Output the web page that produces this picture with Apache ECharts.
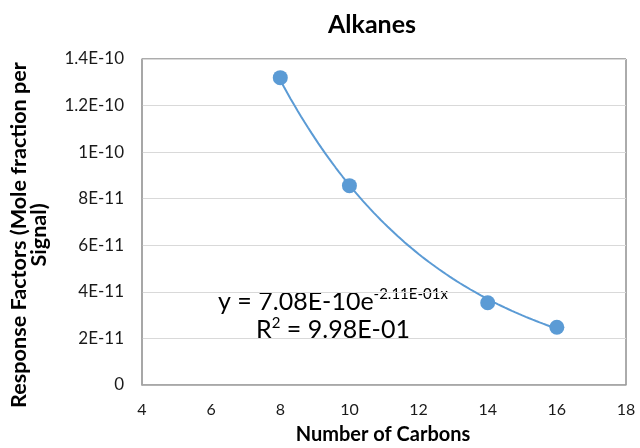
<!DOCTYPE html>
<html>
<head>
<meta charset="utf-8">
<script src="https://cdn.jsdelivr.net/npm/echarts@6/dist/echarts.min.js"></script>
<style>
  html, body { margin: 0; padding: 0; background: #fff; }
  #chart { width: 640px; height: 448px; }
</style>
</head>
<body>
<div id="chart"></div>
<script>
// Measured response factors for n-alkanes
const carbons = [8, 10, 14, 16];
const responseFactors = [1.32e-10, 8.56e-11, 3.53e-11, 2.48e-11];

// Exponential trendline y = A * e^(B x) and its R²
const fitA = 7.08e-10;
const fitB = -2.11e-1;
const fitR2 = 9.98e-1;

const xTickLabels = ['4', '6', '8', '10', '12', '14', '16', '18'];
const yTickLabels = ['0', '2E-11', '4E-11', '6E-11', '8E-11', '1E-10', '1.2E-10', '1.4E-10'];

const FONT = 'Lato, "Open Sans", sans-serif';
const BLUE = '#5B9BD5';

// Excel-style scientific notation, e.g. 7.08E-10, -2.11E-01
function fmtE(v) {
  const s = v.toExponential(2).toUpperCase();
  const m = s.match(/^(-?[\d.]+)E([+-])(\d+)$/);
  return m[1] + 'E' + m[2] + m[3].padStart(2, '0');
}

// Trendline sampled across the data range
const trend = [];
for (let i = 0; i <= 80; i++) {
  const x = carbons[0] + (carbons[carbons.length - 1] - carbons[0]) * i / 80;
  trend.push([x, fitA * Math.exp(fitB * x)]);
}

const chart = echarts.init(document.getElementById('chart'), null, { renderer: 'canvas' });

chart.setOption({
  animation: false,
  backgroundColor: '#ffffff',
  grid: {
    left: 142, right: 14, top: 59, bottom: 63,
    show: true, borderColor: '#595959', borderWidth: 1, backgroundColor: 'transparent'
  },
  xAxis: {
    type: 'value', min: 4, max: 18, interval: 2,
    axisLine: { show: true, lineStyle: { color: '#A6A6A6', width: 1.5 } },
    axisTick: { show: false },
    splitLine: { show: false },
    axisLabel: {
      margin: 17, color: '#1a1a1a', fontFamily: FONT, fontSize: 16,
      formatter: v => xTickLabels[Math.round((v - 4) / 2)]
    }
  },
  yAxis: {
    type: 'value', min: 0, max: 1.4e-10, interval: 2e-11,
    axisLine: { show: true, lineStyle: { color: '#A6A6A6', width: 1.5 } },
    axisTick: { show: false },
    splitLine: { show: true, lineStyle: { color: '#D9D9D9', width: 1 } },
    axisLabel: {
      margin: 18, color: '#1a1a1a', fontFamily: FONT, fontSize: 17,
      formatter: v => yTickLabels[Math.round(v / 2e-11)]
    }
  },
  series: [
    {
      type: 'line', data: trend, showSymbol: false, symbol: 'none',
      lineStyle: { color: BLUE, width: 2 }, z: 2, silent: true
    },
    {
      type: 'scatter', data: carbons.map((c, i) => [c, responseFactors[i]]),
      symbolSize: 15, itemStyle: { color: BLUE, opacity: 1 }, z: 3
    }
  ],
  graphic: [
    {
      type: 'text',
      style: {
        text: 'Alkanes', x: 372, y: 25, align: 'center', verticalAlign: 'middle',
        font: 'bold 25px ' + FONT, fill: '#000'
      }
    },
    {
      type: 'text',
      style: {
        text: 'Number of Carbons', x: 383, y: 435, align: 'center', verticalAlign: 'middle',
        font: 'bold 20px ' + FONT, fill: '#000'
      }
    },
    {
      type: 'text', x: 30, y: 235, rotation: Math.PI / 2, scaleX: 1.08,
      style: {
        text: 'Response Factors (Mole fraction per\nSignal)', x: 0, y: 0,
        align: 'center', verticalAlign: 'middle', lineHeight: 20,
        font: 'bold 20px ' + FONT, fill: '#000'
      }
    },
    {
      type: 'text', x: 333, y: 316,
      style: {
        text: '{m|y = ' + fmtE(fitA) + 'e}{s|' + fmtE(fitB) + 'x}\n{m|R}{s2|2}{m| = ' + fmtE(fitR2) + '}',
        align: 'center', verticalAlign: 'middle',
        rich: {
          m: { fontFamily: FONT, fontSize: 25, color: '#000', lineHeight: 28 },
          s: { fontFamily: FONT, fontSize: 15, color: '#000', lineHeight: 28, padding: [0, 0, 15, 0] },
          s2: { fontFamily: FONT, fontSize: 15, color: '#000', lineHeight: 28, padding: [0, 0, 13, 0] }
        }
      }
    }
  ]
});
</script>
</body>
</html>
